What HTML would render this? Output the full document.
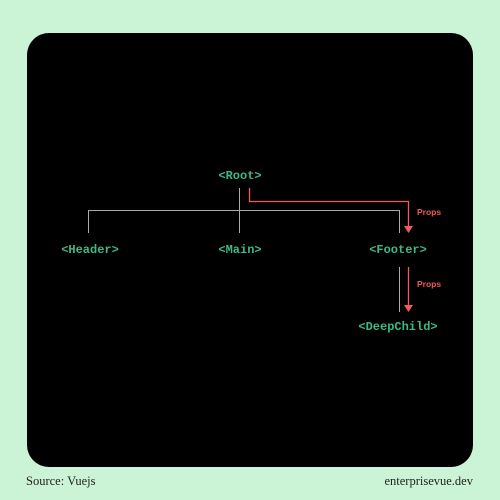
<!DOCTYPE html>
<html><head><meta charset="utf-8"><style>
html,body{margin:0;padding:0;width:500px;height:500px;background:#cbf4d6;overflow:hidden}
svg{display:block}
.n{font-family:"Liberation Mono",monospace;font-weight:bold;font-size:12px;fill:#3fb883}
.p{font-family:"Liberation Sans",sans-serif;font-weight:bold;font-size:8.5px;fill:#f45a5a}
.f{font-family:"Liberation Serif",serif;font-size:12.5px;fill:#222}
</style></head><body>
<svg width="500" height="500">
<rect x="27" y="33" width="446" height="434" rx="22" fill="#000"/>
<g stroke="#aaa" stroke-width="1" fill="none">
<path d="M239.5 188V233M88.5 233V210.5H399.5V233M399.5 267V312"/>
</g>
<g stroke="#f45a5a" stroke-width="1.3" fill="none">
<path d="M249.5 188V201.5H408.5V227M408.5 267V306"/>
</g>
<polygon points="404,226 413,226 408.5,233" fill="#f45a5a"/>
<polygon points="404,305 413,305 408.5,312" fill="#f45a5a"/>
<text class="n" x="240" y="179" text-anchor="middle">&lt;Root&gt;</text>
<text class="n" x="90" y="253" text-anchor="middle">&lt;Header&gt;</text>
<text class="n" x="240" y="253" text-anchor="middle">&lt;Main&gt;</text>
<text class="n" x="398" y="253" text-anchor="middle">&lt;Footer&gt;</text>
<text class="n" x="398" y="330" text-anchor="middle">&lt;DeepChild&gt;</text>
<text class="p" x="417" y="215">Props</text>
<text class="p" x="417" y="287">Props</text>
<text class="f" x="26" y="485">Source: Vuejs</text>
<text class="f" x="473" y="485" text-anchor="end">enterprisevue.dev</text>
</svg>
</body></html>
